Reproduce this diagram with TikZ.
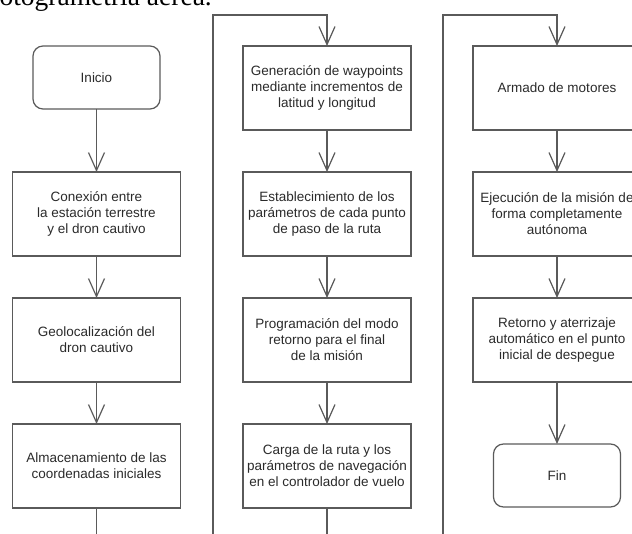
\documentclass[tikz,border=0pt]{standalone}
\usepackage{fontspec}
\setmainfont{Liberation Serif}
\newfontfamily\cajafont{Liberation Sans}
\usetikzlibrary{arrows.meta}
\usetikzlibrary{positioning}
\definecolor{linea}{HTML}{5A5A5A}
\definecolor{texto}{HTML}{2A2A2A}
\tikzset{paso/.style={draw=linea, line width=1.2pt, rectangle, minimum width=168pt, minimum height=84pt, align=center, text=texto, outer sep=0pt, font=\cajafont\fontsize{13.5}{16}\selectfont}}
\tikzset{terminal/.style={paso, rounded corners=10pt, minimum width=127pt, minimum height=63pt}}
\tikzset{connect/.style={draw=linea, line width=1.2pt}}
\tikzset{flecha/.style={connect, -{Straight Barb[length=18pt,width=16pt,line width=1.2pt]}}}

\begin{document}
\begin{tikzpicture}[x=1pt, y=-1pt]

\useasboundingbox (0,0) rectangle (632,534);
\clip (0,0) rectangle (632,534);

%pie de figura
\node[anchor=base east, inner sep=0pt, font=\fontsize{27.5}{30}\selectfont] (pie) at (212,6) {otogrametría aérea.};

%columna 1
\node[terminal] (inicio) at (96.5,77.5) {Inicio};
\node[paso, below=63pt of inicio] (conexion) {Conexión entre\\la estación terrestre\\y el dron cautivo};
\node[paso, below=42pt of conexion] (geoloc) {Geolocalización del\\dron cautivo};
\node[paso, below=42pt of geoloc] (almacen) {Almacenamiento de las\\coordenadas iniciales};
\path[flecha] (inicio) -- (conexion);
\path[flecha] (conexion) -- (geoloc);
\path[flecha] (geoloc) -- (almacen);

%columna 2
\node[paso] (generacion) at (327,88) {Generación de waypoints\\mediante incrementos de\\latitud y longitud};
\node[paso, below=42pt of generacion] (parametros) {Establecimiento de los\\parámetros de cada punto\\de paso de la ruta};
\node[paso, below=42pt of parametros] (programacion) {Programación del modo\\retorno para el final\\de la misión};
\node[paso, below=42pt of programacion] (carga) {Carga de la ruta y los\\parámetros de navegación\\en el controlador de vuelo};
\path[flecha] (generacion) -- (parametros);
\path[flecha] (parametros) -- (programacion);
\path[flecha] (programacion) -- (carga);

%columna 3
\node[paso] (armado) at (557,88) {Armado de motores};
\node[paso, below=42pt of armado] (ejecucion) {Ejecución de la misión de\\forma completamente\\autónoma};
\node[paso, below=42pt of ejecucion] (aterrizaje) {Retorno y aterrizaje\\automático en el punto\\inicial de despegue};
\node[terminal, below=62pt of aterrizaje] (fin) {Fin};
\path[flecha] (armado) -- (ejecucion);
\path[flecha] (ejecucion) -- (aterrizaje);
\path[flecha] (aterrizaje) -- (fin);

%saltos de columna
\coordinate (salto1) at (213,560);
\coordinate (subida1) at (213,15);
\coordinate (salto2) at (443,560);
\coordinate (subida2) at (443,15);
\path[flecha] (almacen.south) |- (salto1) -- (subida1) -| (generacion.north);
\path[flecha] (carga.south) |- (salto2) -- (subida2) -| (armado.north);

\end{tikzpicture}
\end{document}
